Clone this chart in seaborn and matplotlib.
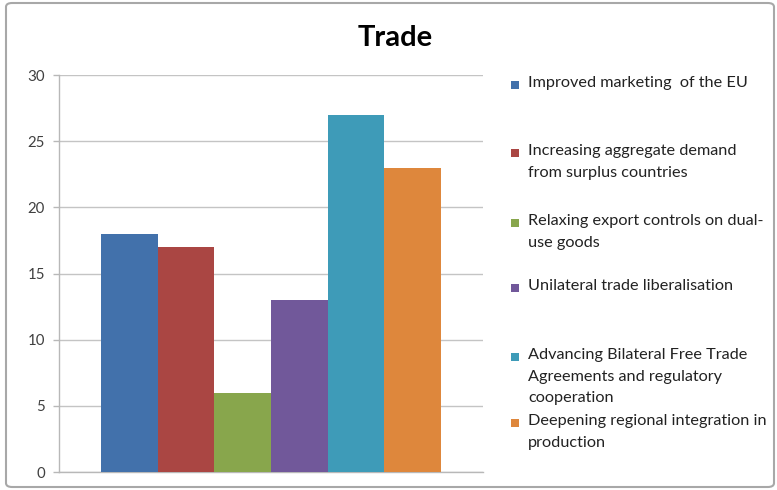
import matplotlib
matplotlib.use("Agg")
import matplotlib.pyplot as plt
from matplotlib.patches import FancyBboxPatch, Rectangle
import seaborn as sns
import pandas as pd

title = "Trade"
series = [
    "Improved marketing  of the EU",
    "Increasing aggregate demand\nfrom surplus countries",
    "Relaxing export controls on dual-\nuse goods",
    "Unilateral trade liberalisation",
    "Advancing Bilateral Free Trade\nAgreements and regulatory\ncooperation",
    "Deepening regional integration in\nproduction",
]
values = [18, 17, 6, 13, 27, 23]
colors = ["#4271AB", "#AA4643", "#88A64C", "#71589A", "#3E9BB8", "#DE873C"]
y_ticks = [0, 5, 10, 15, 20, 25, 30]

df = pd.DataFrame({"group": [title] * len(series), "series": series, "value": values})

sns.set_theme(style="white")
plt.rcParams["font.family"] = ["Lato", "DejaVu Sans"]

fig = plt.figure(figsize=(7.77, 4.90), dpi=100)
ax = fig.add_axes([59 / 777, 1 - 472 / 490, (483 - 59) / 777, (472 - 75) / 490])

sns.barplot(data=df, x="group", y="value", hue="series", hue_order=series,
            palette=colors, width=0.8, linewidth=0, saturation=1,
            legend=False, ax=ax, zorder=3)

ax.set_ylim(0, 30)
ax.set_xlim(-0.5, 0.5)
ax.set_yticks(y_ticks)
ax.set_yticklabels([str(t) for t in y_ticks])
ax.set_xticks([])
ax.set_xlabel("")
ax.set_ylabel("")
ax.yaxis.grid(True, color="#c4c4c4", linewidth=1, zorder=0)
ax.set_axisbelow(True)
for side in ["top", "right"]:
    ax.spines[side].set_visible(False)
for side in ["left", "bottom"]:
    ax.spines[side].set_color("#b8b8b8")
    ax.spines[side].set_linewidth(1)
ax.tick_params(axis="y", which="both", left=True, length=4, width=1,
               color="#b8b8b8", labelcolor="#404040", labelsize=10.8, pad=6)

# Chart title
fig.text(395 / 777, 1 - 38 / 490, title, ha="center", va="center",
         fontsize=21, fontweight="bold", color="#000000")

# Legend entries with their swatches
entry_y = [85, 153, 223, 288, 357, 423]
for label, col, y in zip(series, colors, entry_y):
    fig.add_artist(Rectangle(((515 - 4) / 777, 1 - (y + 4) / 490), 8 / 777, 8 / 490,
                             transform=fig.transFigure, facecolor=col,
                             edgecolor="none"))
    fig.text(528 / 777, 1 - (y - 9) / 490, label, ha="left", va="top",
             fontsize=11.7, color="#222222", linespacing=1.7)

# Chart area border
fig.add_artist(FancyBboxPatch((6 / 777, 3 / 490), 768 / 777, 484 / 490,
                              boxstyle="round,pad=0,rounding_size=0.008",
                              transform=fig.transFigure, facecolor="none",
                              edgecolor="#a8a8a8", linewidth=1.5))

fig.savefig("out.png", dpi=100, facecolor="white")
